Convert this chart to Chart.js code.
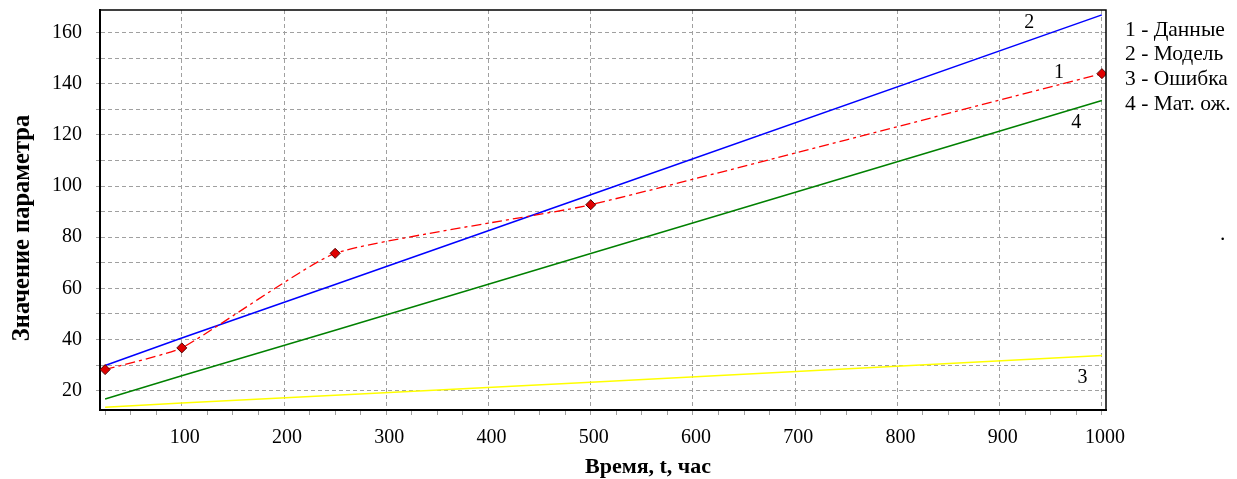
<!DOCTYPE html>
<html>
<head>
<meta charset="utf-8">
<script src="https://cdn.jsdelivr.net/npm/chart.js@4.4.1/dist/chart.umd.min.js"></script>
<style>
    html, body { margin: 0; padding: 0; background: #fff; }
    #wrap { width: 1237px; height: 479px; }
</style>
</head>
<body>
<div id="wrap"><canvas id="paramChart" width="1237" height="479"></canvas></div>
<script>
// values
const times = [25, 100, 250, 500, 1000];
const dataValues = [28.2, 36.7, 73.7, 92.7, 144.0];     // 1 - Данные
const modelValues = [29.8, 40.6, 61.5, 96.6, 167.0];    // 2 - Модель
const errorValues = [13.5, 15.1, 18.2, 23.3, 33.7];     // 3 - Ошибка
const expectValues = [16.7, 25.8, 43.6, 73.6, 133.5];   // 4 - Мат. ож.

const legendLines = ['1 - Данные', '2 - Модель', '3 - Ошибка', '4 - Мат. ож.'];
const xTitle = 'Время, t, час';
const yTitle = 'Значение параметра';

// number tags next to the curves (in data units)
const seriesTags = [
    { text: '2', x: 929, y: 163.8 },
    { text: '1', x: 958, y: 144.5 },
    { text: '4', x: 975, y: 124.6 },
    { text: '3', x: 981, y: 25.2 }
];

const serif = '"Liberation Serif", "Times New Roman", serif';

function points(values) {
    return times.map((t, i) => ({ x: t, y: values[i] }));
}

// frame, curve tags, legend text and axis titles
const frameAndText = {
    id: 'frameAndText',
    afterDraw(chart) {
        const { ctx, chartArea: a, scales: { x, y } } = chart;
        ctx.save();
        ctx.strokeStyle = '#000';
        ctx.lineWidth = 1.5;
        ctx.beginPath();
        ctx.moveTo(a.left, a.top);
        ctx.lineTo(a.right, a.top);
        ctx.lineTo(a.right, a.bottom);
        ctx.stroke();

        ctx.fillStyle = '#000';
        ctx.font = '20px ' + serif;
        ctx.textAlign = 'center';
        ctx.textBaseline = 'middle';
        seriesTags.forEach(t => {
            ctx.fillText(t.text, x.getPixelForValue(t.x), y.getPixelForValue(t.y));
        });

        ctx.font = '21.5px ' + serif;
        ctx.textAlign = 'left';
        legendLines.forEach((s, i) => ctx.fillText(s, a.right + 19, 30 + i * 24.7));
        ctx.fillText('.', 1220, 234);

        ctx.font = 'bold 22px ' + serif;
        ctx.textAlign = 'center';
        ctx.fillText(xTitle, 648, 467);
        ctx.font = 'bold 24.5px ' + serif;
        ctx.translate(23, 228);
        ctx.rotate(-Math.PI / 2);
        ctx.fillText(yTitle, 0, 0);
        ctx.restore();
    }
};

const ctx = document.getElementById('paramChart').getContext('2d');
const paramChart = new Chart(ctx, {
    type: 'line',
    data: {
        datasets: [
            {
                label: 'Данные',
                data: points(dataValues),
                borderColor: '#ff0000',
                borderWidth: 1.3,
                borderDash: [10, 4, 3, 4],
                tension: 0.15,
                pointStyle: 'rectRot',
                pointRadius: 5,
                pointBackgroundColor: '#e00000',
                pointBorderColor: '#500000',
                pointBorderWidth: 1
            },
            {
                label: 'Модель',
                data: points(modelValues),
                borderColor: '#0000ff',
                borderWidth: 1.5,
                pointRadius: 0,
                tension: 0
            },
            {
                label: 'Мат. ож.',
                data: points(expectValues),
                borderColor: '#008000',
                borderWidth: 1.5,
                pointRadius: 0,
                tension: 0
            },
            {
                label: 'Ошибка',
                data: points(errorValues),
                borderColor: '#ffff00',
                borderWidth: 1.5,
                pointRadius: 0,
                tension: 0
            }
        ]
    },
    options: {
        responsive: false,
        animation: false,
        layout: { padding: { top: 10, right: 131, left: 0, bottom: 0 } },
        plugins: {
            legend: { display: false },
            tooltip: { enabled: false }
        },
        scales: {
            x: {
                type: 'linear',
                min: 20,
                max: 1004,
                afterFit(s) {
                    s.height = 69;
                    s.paddingLeft = 0;
                    s.paddingRight = 0;
                },
                ticks: {
                    stepSize: 25,
                    includeBounds: false,
                    autoSkip: false,
                    maxRotation: 0,
                    padding: 11,
                    labelOffset: 3,
                    color: '#000',
                    font: { family: serif, size: 20 },
                    callback: v => (v % 100 === 0 ? v : '')
                },
                grid: {
                    color: c => (c.tick && c.tick.value % 100 === 0 ? '#a0a0a0' : 'rgba(0,0,0,0)'),
                    tickColor: '#a0a0a0',
                    tickLength: 5,
                    lineWidth: 1
                },
                border: { color: '#000', width: 2, dash: [4, 3] }
            },
            y: {
                min: 12.4,
                max: 168.9,
                afterFit(s) {
                    s.width = 100;
                    s.paddingTop = 0;
                    s.paddingBottom = 0;
                },
                ticks: {
                    stepSize: 10,
                    includeBounds: false,
                    autoSkip: false,
                    padding: 14,
                    color: '#000',
                    font: { family: serif, size: 20 },
                    callback: v => (v % 20 === 0 ? v : '')
                },
                grid: {
                    color: '#a0a0a0',
                    tickColor: '#a0a0a0',
                    tickLength: 4,
                    lineWidth: 1
                },
                border: { color: '#000', width: 2, dash: [4, 3] }
            }
        }
    },
    plugins: [frameAndText]
});
</script>
</body>
</html>
